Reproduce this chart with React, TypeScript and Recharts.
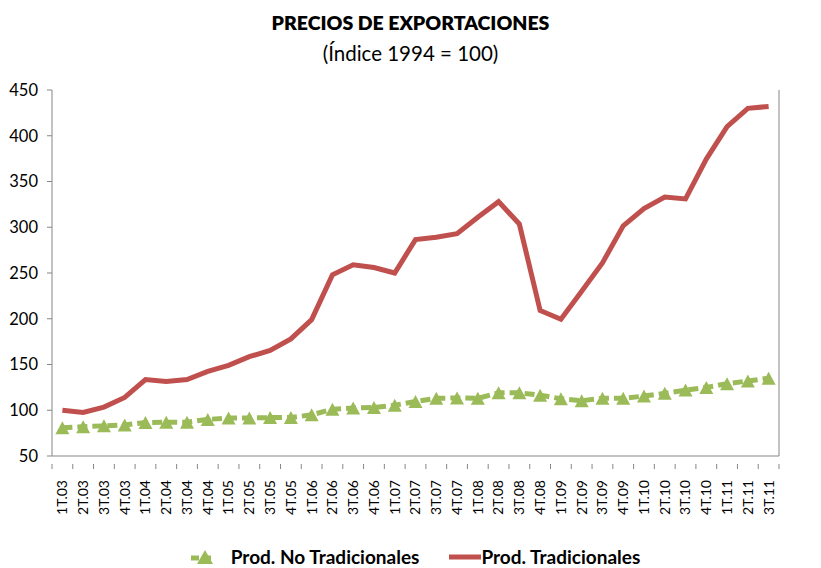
import React from 'react';
import { LineChart, Line, XAxis, YAxis, Legend } from 'recharts';

const categories = ['1T.03','2T.03','3T.03','4T.03','1T.04','2T.04','3T.04','4T.04','1T.05','2T.05','3T.05','4T.05','1T.06','2T.06','3T.06','4T.06','1T.07','2T.07','3T.07','4T.07','1T.08','2T.08','3T.08','4T.08','1T.09','2T.09','3T.09','4T.09','1T.10','2T.10','3T.10','4T.10','1T.11','2T.11','3T.11'];
const noTradicionales = [81,82,83,84,86.5,87,87,90,91.5,91.5,92,92,95,101,102.5,103,105.5,109.5,113,113.5,113,119,119,116.5,112.5,110.5,113,113,115.5,118.5,122,125,129,132,135];
const tradicionales = [100,97.5,103.5,114,133.5,131.5,133.5,142.5,149,158.5,165.5,178,199,248,259,256,250,286.5,289,293,311,328,303.5,209,199.5,230,261,301.5,320.5,333,331,374.5,410,430,432];
const yTicks = [50,100,150,200,250,300,350,400,450];

const data = categories.map((c, i) => ({ cat: c, noTrad: noTradicionales[i], trad: tradicionales[i] }));

const W = 821, H = 568;
const PLOT_L = 52, PLOT_R = 779;
const BAND = (PLOT_R - PLOT_L) / categories.length;
const FONT = 'Lato, "Open Sans", sans-serif';
const GREEN = '#9BBB59';
const RED = '#C0504D';
const AXIS = '#868686';

const Triangle = (props: any) => {
  const { cx, cy, index } = props;
  if (cx == null || cy == null) return <g key={index} />;
  const w = 14, h = 13;
  return (
    <path key={index} d={`M${cx - w / 2},${cy + h / 2} L${cx + w / 2},${cy + h / 2} L${cx},${cy - h / 2} Z`} fill={GREEN} stroke="none" />
  );
};

const XTick = (props: any) => {
  const { x, y, payload, index } = props;
  const isLast = index === categories.length - 1;
  return (
    <g>
      <line x1={x - BAND / 2} x2={x - BAND / 2} y1={y} y2={y + 5} stroke={AXIS} />
      {isLast && <line x1={x + BAND / 2} x2={x + BAND / 2} y1={y} y2={y + 5} stroke={AXIS} />}
      <text x={x} y={y + 16} transform={`rotate(-90, ${x}, ${y + 16})`} textAnchor="end" dy="0.35em" fontSize={14} fill="#000" fontFamily={FONT}>
        {payload.value}
      </text>
    </g>
  );
};

const LegendContent = (props: any) => {
  const { payload } = props;
  return (
    <div style={{ display: 'flex', justifyContent: 'center', alignItems: 'center', paddingTop: 19, paddingLeft: 8, fontFamily: FONT, fontWeight: 700, fontSize: 19, color: '#000' }}>
      {(payload || []).map((p: any) => (
        <div key={p.value} style={{ display: 'flex', alignItems: 'center', marginRight: p.dataKey === 'noTrad' ? 30 : 0 }}>
          <svg width={32} height={16} style={{ marginRight: p.dataKey === 'noTrad' ? 10 : 0 }}>
            {p.dataKey === 'noTrad' ? (
              <g>
                <line x1={2} x2={26} y1={9} y2={9} stroke={GREEN} strokeWidth={5} strokeDasharray="8 4" />
                <path d="M8,15 L24,15 L16,1 Z" fill={GREEN} />
              </g>
            ) : (
              <line x1={0} x2={32} y1={8} y2={8} stroke={RED} strokeWidth={5} strokeLinecap="round" />
            )}
          </svg>
          <span>{p.value}</span>
        </div>
      ))}
    </div>
  );
};

export default function App() {
  return (
    <div style={{ position: 'absolute', left: 0, top: 0, width: W, height: H, background: '#fff' }}>
      <div style={{ position: 'absolute', left: 0, top: 11, width: W, textAlign: 'center', fontFamily: FONT, fontWeight: 800, fontSize: 19.5, color: '#000' }}>
        PRECIOS DE EXPORTACIONES
      </div>
      <div style={{ position: 'absolute', left: 0, top: 41, width: W, textAlign: 'center', fontFamily: FONT, fontSize: 20.5, color: '#000' }}>
        (Índice 1994 = 100)
      </div>
      <LineChart width={W} height={H} data={data} margin={{ top: 90, right: 0, bottom: 0, left: 0 }}>
        <XAxis dataKey="cat" interval={0} height={70} tickLine={false} stroke={AXIS} tick={<XTick />} padding={{ left: BAND / 2, right: BAND / 2 }} />
        <YAxis yAxisId="left" width={52} domain={[50, 450]} ticks={yTicks} stroke={AXIS} tickSize={5} tickMargin={9} tick={{ fill: '#000', fontSize: 16.5, fontFamily: FONT }} allowDataOverflow />
        <YAxis yAxisId="right" orientation="right" width={42} domain={[50, 450]} ticks={yTicks} stroke={AXIS} tickSize={5} tickMargin={2} tick={{ fill: '#000', fontSize: 16.5, fontFamily: FONT, textAnchor: 'start' }} />
        <Legend verticalAlign="bottom" height={42} content={<LegendContent />} />
        <Line yAxisId="left" dataKey="noTrad" name="Prod. No Tradicionales" stroke={GREEN} strokeWidth={5} strokeDasharray="10 5" dot={Triangle} activeDot={false} isAnimationActive={false} />
        <Line yAxisId="left" dataKey="trad" name="Prod. Tradicionales" stroke={RED} strokeWidth={5} dot={false} activeDot={false} isAnimationActive={false} />
      </LineChart>
    </div>
  );
}
